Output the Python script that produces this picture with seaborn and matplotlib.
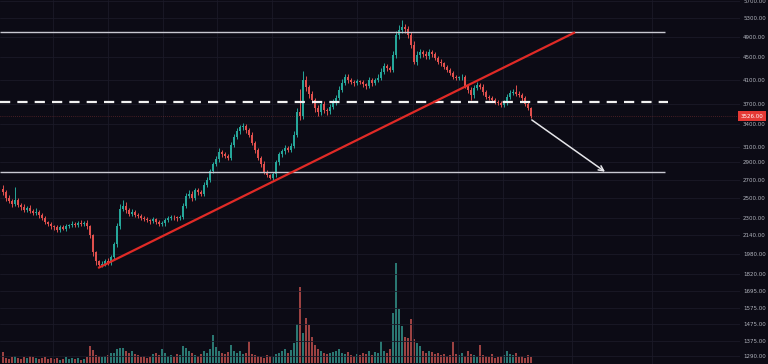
import numpy as np
import pandas as pd
import seaborn as sns
import matplotlib
matplotlib.use("Agg")
import matplotlib.pyplot as plt
from matplotlib.ticker import NullLocator, FixedLocator

# daily closes (open = previous close)
closes = [
    2560, 2500, 2470, 2440, 2480, 2430, 2410, 2380, 2400, 2370,
    2350, 2360, 2330, 2300, 2260, 2240, 2220, 2210, 2190, 2215,
    2200, 2225, 2235, 2245, 2230, 2250, 2240, 2255, 2220, 2140,
    1990, 1920, 1890, 1900, 1920, 1905, 1950, 2060, 2220, 2390,
    2420, 2380, 2340, 2360, 2330, 2320, 2300, 2290, 2280, 2270,
    2285, 2260, 2240, 2250, 2280, 2300, 2310, 2305, 2295, 2310,
    2420, 2520, 2540, 2500, 2585, 2560, 2545, 2640, 2700, 2800,
    2880, 2940, 3030, 3000, 2980, 2960, 3120, 3230, 3310, 3360,
    3380, 3320, 3260, 3150, 3050, 2960, 2880, 2790, 2750, 2720,
    2760, 2900, 3000, 3040, 3080, 3060, 3110, 3260, 3580, 3520,
    4100, 3970, 3860, 3760, 3640, 3580, 3700, 3620, 3590, 3660,
    3740, 3800, 3930, 4050, 4150, 4100, 4060, 4040, 4070, 4060,
    4020, 4000, 4090, 4040, 4100, 4130, 4240, 4340, 4300, 4270,
    4550, 4940, 5050, 5120, 5060, 4950, 4750, 4420, 4550, 4600,
    4560, 4520, 4600, 4570, 4490, 4420, 4390, 4330, 4270, 4220,
    4150, 4130, 4140, 4150, 4000, 3930, 3840, 3960, 4010, 3980,
    3890, 3815, 3800, 3770, 3740, 3720, 3690, 3730, 3810, 3880,
    3900, 3870, 3850, 3800, 3710, 3640, 3526,
]
first_open = 2600

# upper / lower wick length in % of the body edge
wick_up = [
    1.5, 1.0, 1.2, 0.8, 5.6, 1.0, 0.8, 1.2, 0.6, 1.0,
    0.8, 1.6, 0.7, 0.9, 1.0, 0.6, 0.8, 0.5, 1.2, 0.6,
    0.9, 0.7, 0.5, 1.0, 0.6, 0.8, 1.2, 0.7, 0.9, 0.5,
    0.6, 0.8, 0.5, 1.0, 0.9, 1.2, 0.8, 1.0, 1.5, 1.8,
    2.4, 1.5, 0.9, 1.0, 0.8, 0.6, 0.9, 0.7, 0.8, 0.5,
    0.9, 0.6, 0.7, 1.1, 0.8, 0.6, 0.9, 0.7, 0.6, 0.8,
    1.0, 1.5, 1.8, 1.2, 1.0, 0.8, 0.9, 1.1, 1.0, 0.8,
    1.0, 1.2, 1.5, 0.9, 1.0, 0.8, 1.2, 1.0, 1.4, 1.0,
    1.2, 1.0, 0.8, 1.2, 0.9, 1.0, 0.8, 1.2, 0.7, 0.6,
    1.0, 1.2, 1.0, 0.9, 1.3, 0.8, 1.2, 1.5, 1.8, 10.3,
    3.7, 1.5, 1.2, 1.4, 1.0, 1.5, 1.0, 1.3, 0.8, 1.2,
    1.0, 1.1, 1.5, 1.4, 1.3, 1.2, 0.9, 1.0, 1.2, 0.8,
    1.0, 0.8, 1.2, 1.0, 0.9, 1.5, 1.4, 1.3, 1.0, 1.2,
    1.5, 1.8, 2.0, 2.7, 1.3, 1.5, 1.0, 1.5, 1.8, 1.2,
    1.0, 1.2, 1.4, 1.0, 0.9, 0.8, 1.0, 0.8, 0.9, 1.0,
    0.8, 0.9, 0.7, 1.0, 0.8, 0.9, 1.0, 1.4, 1.2, 0.9,
    1.0, 0.8, 0.9, 0.7, 0.6, 0.8, 0.7, 1.0, 1.2, 1.3,
    1.2, 2.8, 1.0, 0.8, 0.6, 0.9, 0.7,
]
wick_dn = [
    1.0, 1.2, 0.8, 1.5, 0.9, 1.0, 1.2, 0.8, 1.0, 0.9,
    1.0, 0.8, 1.2, 0.9, 1.0, 0.8, 1.1, 0.9, 1.0, 0.8,
    0.7, 0.9, 0.8, 1.0, 0.7, 0.9, 0.8, 0.6, 1.0, 1.2,
    1.5, 1.8, 1.1, 1.0, 1.2, 0.9, 0.8, 1.0, 1.2, 1.0,
    1.0, 1.2, 1.0, 0.8, 1.0, 0.9, 1.0, 0.8, 0.9, 1.1,
    0.8, 1.0, 0.9, 0.8, 1.0, 0.7, 0.8, 0.9, 1.0, 0.8,
    0.8, 1.0, 1.0, 1.2, 0.9, 1.0, 1.1, 0.9, 0.8, 1.0,
    1.0, 0.9, 1.0, 1.2, 1.0, 1.1, 0.9, 1.0, 1.0, 1.2,
    1.0, 1.2, 1.0, 1.1, 1.0, 1.2, 1.0, 1.1, 0.9, 0.7,
    1.0, 1.0, 1.2, 1.0, 1.1, 1.0, 0.9, 1.0, 1.2, 1.5,
    1.2, 1.3, 1.5, 1.2, 1.4, 1.6, 1.2, 1.3, 1.4, 1.0,
    1.0, 1.2, 1.0, 0.9, 1.0, 1.2, 1.0, 1.1, 0.9, 1.0,
    1.1, 1.2, 1.0, 1.1, 0.9, 1.0, 0.8, 1.0, 1.1, 1.0,
    1.0, 1.2, 1.5, 1.3, 1.4, 1.5, 1.6, 0.9, 1.4, 1.2,
    1.2, 1.0, 1.1, 1.2, 1.0, 0.9, 1.0, 1.0, 0.9, 1.0,
    1.0, 0.9, 0.8, 0.9, 1.0, 1.1, 2.1, 1.0, 0.9, 1.0,
    1.0, 0.9, 0.8, 0.9, 0.8, 0.7, 0.9, 0.8, 1.0, 0.9,
    1.0, 0.9, 1.0, 1.1, 1.0, 0.9, 0.9,
]
volume = [
    11, 5, 4, 6, 7, 5, 4, 6, 5, 7,
    6, 5, 4, 5, 6, 4, 5, 4, 5, 3,
    4, 6, 4, 5, 4, 5, 3, 4, 6, 17,
    13, 8, 7, 6, 7, 8, 10, 10, 14, 15,
    15, 12, 10, 12, 9, 8, 6, 7, 5, 6,
    9, 10, 8, 14, 10, 7, 8, 6, 9, 8,
    17, 15, 12, 10, 8, 7, 9, 12, 10, 14,
    28, 16, 12, 10, 9, 11, 18, 12, 10, 12,
    9, 10, 22, 9, 8, 7, 6, 5, 8, 7,
    6, 9, 10, 12, 14, 10, 13, 20, 39, 76,
    30, 45, 38, 26, 18, 14, 12, 10, 9, 10,
    11, 12, 14, 10, 9, 11, 8, 7, 9, 8,
    10, 9, 12, 8, 11, 10, 22, 12, 10, 14,
    50, 100, 54, 37, 26, 25, 44, 24, 20, 17,
    12, 10, 12, 11, 9, 10, 8, 9, 7, 8,
    21, 9, 8, 10, 7, 12, 9, 8, 6, 18,
    8, 7, 6, 9, 5, 6, 7, 8, 12, 9,
    8, 10, 6, 7, 5, 8, 6,
]

price_ticks = [5700, 5300, 4900, 4500, 4100, 3700, 3400, 3100, 2900, 2700,
               2500, 2300, 2140, 1980, 1820, 1695, 1575, 1475, 1375, 1290]
last_price = 3526.00

# drawn levels / trendline / projection arrow (candle index, price)
resistance = 5000
support = 2790
pivot = 3740
trend_start = (31.7, 1865)
trend_end = (190.7, 5000)
arrow_start = (176.3, 3465)
arrow_end = (200.7, 2790)

bg = "#0c0b15"
grid_c = "#1b1a28"
up_c, dn_c = "#26a69a", "#e0504d"
vup_c, vdn_c = "#2a7772", "#9c4242"

sns.set_theme(style="dark")
plt.rcParams["font.family"] = ["DejaVu Sans"]

df = pd.DataFrame({"close": closes, "up": wick_up, "dn": wick_dn, "vol": volume})
df["idx"] = np.arange(len(df))
df["open"] = [first_open] + closes[:-1]
df["top"] = df[["open", "close"]].max(axis=1)
df["bot"] = df[["open", "close"]].min(axis=1)
df["high"] = df["top"] * (1 + df["up"] / 100)
df["low"] = df["bot"] * (1 - df["dn"] / 100)
df["dir"] = np.where(df["close"] >= df["open"], "up", "down")

fig = plt.figure(figsize=(7.68, 3.64), dpi=100, facecolor=bg)
ax = fig.add_axes([0, 0, 740 / 768, 1])
vax = ax.twinx()
vax.set_facecolor(bg)
ax.set_zorder(vax.get_zorder() + 1)
ax.patch.set_visible(False)

# volume
sns.barplot(data=df, x="idx", y="vol", hue="dir", native_scale=True, dodge=False,
            palette={"up": vup_c, "down": vdn_c}, width=0.85, saturation=1,
            legend=False, linewidth=0, edgecolor="none", ax=vax)
vax.set_ylim(-1, 363)
vax.set_xlabel("")
vax.set_ylabel("")
vax.set_yticks([])
vax.grid(False)

# candles
cols = np.where(df["dir"] == "up", up_c, dn_c)
ax.vlines(df["idx"], df["low"], df["high"], colors=cols, lw=0.7)
ax.bar(df["idx"], df["top"] - df["bot"], bottom=df["bot"], width=0.7,
       color=cols, linewidth=0)

ax.set_yscale("log")
ax.set_ylim(1248, 5724)
ax.set_xlim(-1, 245.7)

ax.yaxis.tick_right()
ax.yaxis.set_major_locator(FixedLocator(price_ticks))
ax.yaxis.set_minor_locator(NullLocator())
ax.set_yticklabels([f"{t:.2f}" for t in price_ticks])
ax.tick_params(axis="y", length=0, pad=2.2, labelsize=4, labelcolor="#b2b5be")
vgrid_px = [53, 108, 163, 217, 272, 357, 413, 458, 503, 572, 652]
ax.set_xticks([(p - 3) / 3 for p in vgrid_px])
ax.tick_params(axis="x", length=0, labelbottom=False)
ax.grid(True, color=grid_c, lw=0.6)
for s in ax.spines.values():
    s.set_visible(False)
for s in vax.spines.values():
    s.set_visible(False)

# drawings
ax.hlines([resistance, support], -1, 220.7, colors="#c9c9d2", lw=1.0, zorder=4)
ax.hlines(pivot, -1, 221.7, colors="#f2f2f2", lw=1.6, zorder=4,
          linestyles=(0, (4.6, 3.2)))
ax.hlines(last_price, -1, 245.7, colors=dn_c, lw=0.5, alpha=0.55,
          linestyles=(0, (1, 2)), zorder=1)
ax.plot([trend_start[0], trend_end[0]], [trend_start[1], trend_end[1]],
        color="#e02a26", lw=1.6, zorder=5, solid_capstyle="butt")
ax.annotate("", xy=arrow_end, xytext=arrow_start, zorder=6,
            arrowprops=dict(arrowstyle="->", color="#e6e6ea", lw=1.1,
                            mutation_scale=9, shrinkA=0, shrinkB=0))

fig.text(752 / 768, 1 - 116 / 364, f"{last_price:.2f}", fontsize=4, color="white",
         ha="center", va="center",
         bbox=dict(boxstyle="square,pad=0.5", fc="#e53935", ec="none"))

fig.savefig("out.png", dpi=100, facecolor=bg)
